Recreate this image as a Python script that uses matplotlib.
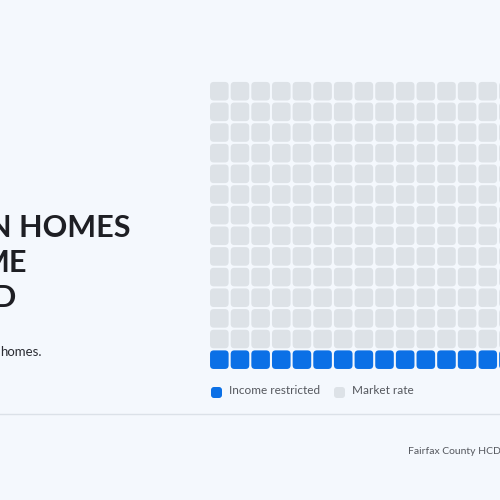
import matplotlib
matplotlib.use("Agg")
import matplotlib.pyplot as plt
from matplotlib.patches import FancyBboxPatch

# -------- data --------
categories = ["Income restricted", "Market rate"]
counts = [20, 260]          # cells per category, filled from the bottom row
n_rows = 14
n_cols = 20

title_lines = ["N HOMES", "ME", "D"]
subtitle = "homes."
source = "Fairfax County HCD"

# -------- style --------
BG = "#f4f8fd"
COLORS = ["#0b70e6", "#dde2e7"]
plt.rcParams["font.family"] = ["Lato", "DejaVu Sans"]

fig = plt.figure(figsize=(5, 5), dpi=100, facecolor=BG)

# overlay axes in pixel coords for texts and furniture
ax = fig.add_axes([0, 0, 1, 1])
ax.set_xlim(0, 500)
ax.set_ylim(500, 0)
ax.axis("off")

# title (left-aligned block, its left part falls outside the frame)
line_ends = [131, 27, 16]
for i, line in enumerate(title_lines):
    ax.text(line_ends[i], 228 + i * 35, line, ha="right", va="center",
            fontsize=22, fontweight="bold", color="#1e1f24")
ax.text(42, 352, subtitle, ha="right", va="center", fontsize=9.5, color="#2b2d33")

# -------- waffle --------
pitch = 20.65
wax = fig.add_axes([209 / 500, (500 - 370) / 500,
                    n_cols * pitch / 500, n_rows * pitch / 500])
wax.set_xlim(0, n_cols)
wax.set_ylim(0, n_rows)
wax.axis("off")

cell_cat = []
for c, n in enumerate(counts):
    cell_cat += [c] * n

for idx, c in enumerate(cell_cat):
    row = idx // n_cols
    col = idx % n_cols
    box = FancyBboxPatch((col + 0.05, row + 0.05), 0.9, 0.9,
                         boxstyle="round,pad=0,rounding_size=0.18",
                         facecolor=COLORS[c], edgecolor="none")
    wax.add_patch(box)

# legend
leg_x = [211, 334]
for c, name in enumerate(categories):
    ax.add_patch(FancyBboxPatch((leg_x[c], 387), 11, 11,
                                boxstyle="round,pad=0,rounding_size=3",
                                facecolor=COLORS[c], edgecolor="none"))
    ax.text(leg_x[c] + 18, 390, name, ha="left", va="center",
            fontsize=8.5, color="#55585e")

# separator and source
ax.axhline(414, color="#dbe1e8", linewidth=1)
ax.text(408, 451, source, ha="left", va="center", fontsize=7.5, color="#55585e")

fig.savefig("out.png", dpi=100, facecolor=BG)
